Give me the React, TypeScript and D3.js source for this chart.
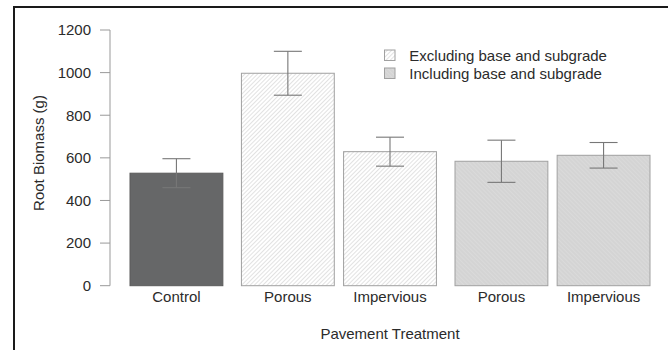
import React from "react";
import * as d3 from "d3";

// Root biomass by pavement treatment, mean ± error
const categories = ["Control", "Porous", "Impervious", "Porous", "Impervious"];
const groups = ["control", "excluding", "excluding", "including", "including"];
const means = [528, 997, 629, 584, 612];
const errors = [68, 103, 68, 99, 60];
// gap before each bar, in bar widths (R barplot style)
const spaces = [0.2, 0.2, 0.1, 0.2, 0.1];
const yTicks = [0, 200, 400, 600, 800, 1000, 1200];
const legendLabels = ["Excluding base and subgrade", "Including base and subgrade"];

const W = 668;
const H = 350;
const FONT = "'Liberation Sans', Arial, sans-serif";
const TEXT = "#2b2b2b";

export default function App() {
  // bar extents in bar-width units
  const starts: number[] = [];
  let acc = 0;
  spaces.forEach((s) => {
    acc += s;
    starts.push(acc);
    acc += 1;
  });

  const x = d3.scaleLinear().domain([0.2, 5.8]).range([130, 650]);
  const y = d3.scaleLinear().domain([0, 1200]).range([285.7, 30]);
  const bw = x(1) - x(0);
  const cap = 14;

  const fillFor = (g: string) =>
    g === "control" ? "#666768" : g === "excluding" ? "url(#hatchEx)" : "url(#hatchIn)";

  return (
    <svg
      width={W}
      height={H}
      style={{ position: "absolute", left: 0, top: 0, background: "#fff" }}
      fontFamily={FONT}
    >
      <defs>
        <pattern id="hatchEx" patternUnits="userSpaceOnUse" width={3} height={3} patternTransform="rotate(45)">
          <rect width={3} height={3} fill="#fff" />
          <line x1={0} y1={0} x2={0} y2={3} stroke="#c6c6c6" strokeWidth={1} />
        </pattern>
        <pattern id="hatchIn" patternUnits="userSpaceOnUse" width={3} height={3} patternTransform="rotate(-45)">
          <rect width={3} height={3} fill="#d4d4d4" />
          <line x1={0} y1={0} x2={0} y2={3} stroke="#e2e2e2" strokeWidth={0.9} />
        </pattern>
      </defs>

      {/* outer frame */}
      <path d={`M14,${H} L14,7 L${W},7`} fill="none" stroke="#1a1a1a" strokeWidth={2} />

      {/* y axis */}
      <line x1={110} x2={110} y1={y(0)} y2={y(1200)} stroke="#999" strokeWidth={1} />
      {yTicks.map((t) => (
        <g key={t}>
          <line x1={100} x2={110} y1={y(t)} y2={y(t)} stroke="#999" strokeWidth={1} />
          <text x={91} y={y(t) + 5.3} textAnchor="end" fontSize={15} fill={TEXT}>
            {t}
          </text>
        </g>
      ))}
      <text
        transform={`translate(44,153) rotate(-90)`}
        textAnchor="middle"
        fontSize={15}
        fill={TEXT}
      >
        Root Biomass (g)
      </text>

      {/* bars */}
      {means.map((m, i) => (
        <rect
          key={i}
          x={x(starts[i])}
          y={y(m)}
          width={bw}
          height={y(0) - y(m)}
          fill={fillFor(groups[i])}
          stroke={groups[i] === "control" ? "#5a5a5a" : "#a0a0a0"}
          strokeWidth={1}
        />
      ))}

      {/* error bars */}
      {means.map((m, i) => {
        const cx = x(starts[i] + 0.5);
        return (
          <g key={i} stroke="#777" strokeWidth={1.1}>
            <line x1={cx} x2={cx} y1={y(m + errors[i])} y2={y(m - errors[i])} />
            <line x1={cx - cap} x2={cx + cap} y1={y(m + errors[i])} y2={y(m + errors[i])} />
            <line x1={cx - cap} x2={cx + cap} y1={y(m - errors[i])} y2={y(m - errors[i])} />
          </g>
        );
      })}

      {/* category labels */}
      {categories.map((c, i) => (
        <text
          key={i}
          x={x(starts[i] + 0.5)}
          y={302.3}
          textAnchor="middle"
          fontSize={15}
          fill={TEXT}
        >
          {c}
        </text>
      ))}
      <text x={390} y={338.5} textAnchor="middle" fontSize={15} fill={TEXT}>
        Pavement Treatment
      </text>

      {/* legend */}
      {legendLabels.map((l, i) => (
        <g key={l}>
          <rect
            x={384.5}
            y={50 + i * 18}
            width={10.5}
            height={10.5}
            fill={i === 0 ? "url(#hatchEx)" : "url(#hatchIn)"}
            stroke="#a0a0a0"
            strokeWidth={1}
          />
          <text x={409.3} y={61 + i * 18} fontSize={15} fill={TEXT}>
            {l}
          </text>
        </g>
      ))}
    </svg>
  );
}
